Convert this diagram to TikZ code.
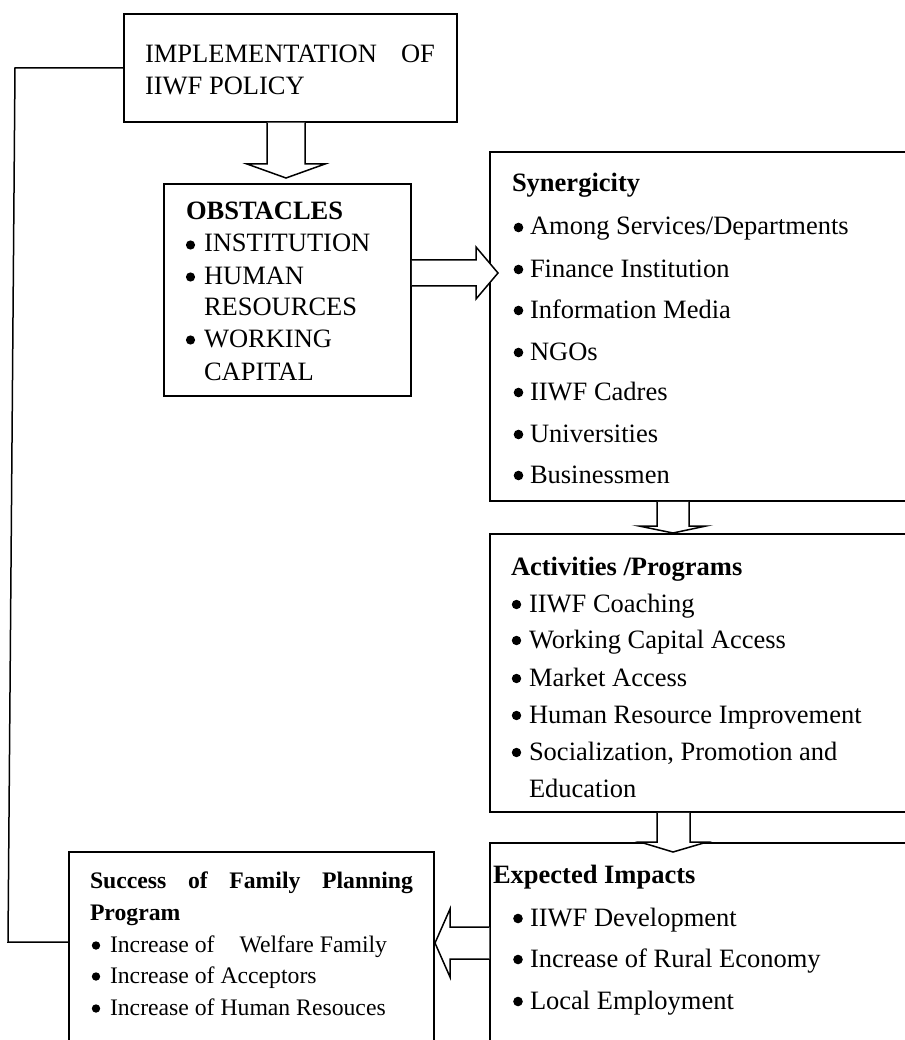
\documentclass[tikz,border=0pt]{standalone}
\usepackage{fontspec}
\setmainfont{Liberation Serif}
\usetikzlibrary{calc}
\begin{document}
\begin{tikzpicture}[x=1pt,y=-1pt,
  box/.style={draw,line width=1.5pt,inner sep=0pt,outer sep=0pt,anchor=north west},
  barrow/.style={draw,line width=1.5pt,fill=white,line join=miter},
  link/.style={draw,line width=1.5pt},
  txt/.style={anchor=base west,inner sep=0pt,outer sep=0pt,font=\fontsize{26.5}{32}\selectfont},
  stxt/.style={anchor=base west,inner sep=0pt,outer sep=0pt,font=\fontsize{23.7}{30}\selectfont},
]
\useasboundingbox[fill=white] (0,0) rectangle (904,1040);

% boxes
\node[box,minimum width=333pt,minimum height=108pt] (top) at (124,14) {};
\node[box,minimum width=247pt,minimum height=212pt] (obs) at (164,184) {};
\node[box,minimum width=416pt,minimum height=349pt] (syn) at (490,152) {};
\node[box,minimum width=416pt,minimum height=278pt] (act) at (490,534) {};
\node[box,minimum width=416pt,minimum height=210pt] (exp) at (490,843) {};
\node[box,minimum width=365pt,minimum height=200pt] (suc) at (69,852) {};

% top box text
\node[txt] (t1) at (145,63) {\hbox to 290pt{IMPLEMENTATION\hfill OF}};
\node[txt] (t2) at (145,95) {IIWF POLICY};

% obstacles
\node[txt] (o0) at (186,220) {\textbf{OBSTACLES}};
\node[txt] (o1) at (204,252) {INSTITUTION};
\node[txt] (o2) at (204,284) {HUMAN};
\node[txt] (o3) at (204,315) {RESOURCES};
\node[txt] (o4) at (204,347) {WORKING};
\node[txt] (o5) at (204,380) {CAPITAL};

% synergicity
\node[txt] (s0) at (512,192) {\textbf{Synergicity}};
\node[txt] (s1) at (530,235) {Among Services/Departments};
\node[txt] (s2) at (530,277) {Finance Institution};
\node[txt] (s3) at (530,318) {Information Media};
\node[txt] (s4) at (530,360) {NGOs};
\node[txt] (s5) at (530,400) {IIWF Cadres};
\node[txt] (s6) at (530,442) {Universities};
\node[txt] (s7) at (530,483) {Businessmen};

% activities
\node[txt] (p0) at (511,575) {\textbf{Activities /Programs}};
\node[txt] (p1) at (529,612) {IIWF Coaching};
\node[txt] (p2) at (529,648) {Working Capital Access};
\node[txt] (p3) at (529,686) {Market Access};
\node[txt] (p4) at (529,723) {Human Resource Improvement};
\node[txt] (p5) at (529,760) {Socialization, Promotion and};
\node[txt] (p6) at (529,797) {Education};

% expected impacts
\node[txt] (e0) at (493,883) {\textbf{Expected Impacts}};
\node[txt] (e1) at (530,926) {IIWF Development};
\node[txt] (e2) at (530,967) {Increase of Rural Economy};
\node[txt] (e3) at (530,1009) {Local Employment};

% success
\node[stxt] (u0) at (90,888) {\hbox to 323pt{\bfseries Success\hfill of\hfill Family\hfill Planning}};
\node[stxt] (u1) at (90,920) {\textbf{Program}};
\node[stxt] (u2) at (110,952) {Increase of\hspace{19pt} Welfare Family};
\node[stxt] (u3) at (110,983) {Increase of Acceptors};
\node[stxt] (u4) at (110,1015) {Increase of Human Resouces};

% bullets
\foreach \n in {o1,o2,o4} \fill ($(\n.base west)+(-13.5,-7)$) circle (4.6pt);
\foreach \n in {s1,s2,s3,s4,s5,s6,s7} \fill ($(\n.base west)+(-11.5,-7.5)$) circle (4.8pt);
\foreach \n in {p1,p2,p3,p4,p5} \fill ($(\n.base west)+(-12.5,-7.5)$) circle (4.7pt);
\foreach \n in {e1,e2,e3} \fill ($(\n.base west)+(-12,-7.5)$) circle (4.8pt);
\foreach \n in {u2,u3,u4} \fill ($(\n.base west)+(-14,-6.5)$) circle (4.2pt);

% block arrows
\draw[barrow] ($(top.south -| obs.north)+(-20.5,0.75)$) -- ++(0,41.25) -- ++(-20,0) -- ++(39,14) -- ++(39,-14) -- ++(-20,0) -- ++(0,-41.25);
\draw[barrow] ($(obs.north east)+(0.75,76)$) -- ++(64.25,0) -- ++(0,-13) -- ++(22,26) -- ++(-22,26) -- ++(0,-13) -- ++(-64.25,0);
\draw[barrow] ($(syn.south west)+(167,0.75)$) -- ++(0,24.25) -- ++(-18,0) -- ++(34,7) -- ++(33,-7) -- ++(-17,0) -- ++(0,-24.25);
\draw[barrow] ($(act.south west)+(167,0.75)$) -- ++(0,29.25) -- ++(-17,0) -- ++(33,10) -- ++(34,-10) -- ++(-17,0) -- ++(0,-29.25);
\draw[barrow] ($(exp.north west)+(-0.75,84)$) -- ++(-39.25,0) -- ++(0,-18) -- ++(-15,34) -- ++(15,34) -- ++(0,-18) -- ++(39.25,0);

% feedback line
\coordinate (bend) at (15,68);
\draw[link] ($(suc.north west)+(0,90)$) -- ++(-61,0) -- (bend) -- ($(top.north west)+(0,54)$);
\end{tikzpicture}
\end{document}
